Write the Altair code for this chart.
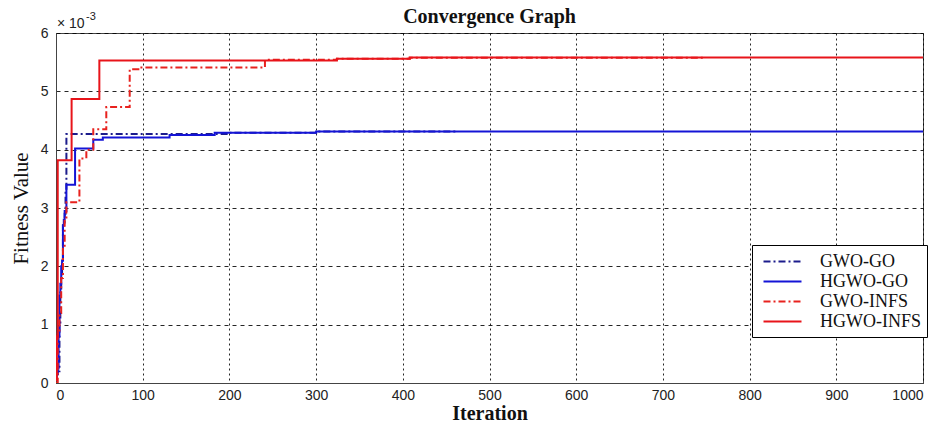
import altair as alt
import pandas as pd

# values in units of 1e-3
series_names = ["GWO-GO", "HGWO-GO", "GWO-INFS", "HGWO-INFS"]

gwo_go_iter = [0, 2, 4, 5, 6, 7, 8, 10, 11, 12, 200, 300, 463]
gwo_go_val = [0.15, 0.2, 1.0, 1.6, 1.8, 2.1, 2.75, 2.9, 3.3, 4.27, 4.29, 4.31, 4.31]

hgwo_go_iter = [0, 1, 2, 3, 4, 5, 6, 7, 8, 9, 10, 12, 22, 43, 54, 131, 183, 300, 1000]
hgwo_go_val = [0.1, 0.15, 0.25, 0.8, 1.5, 1.7, 2.0, 2.1, 2.7, 2.8, 2.95, 3.4, 4.02, 4.17, 4.21, 4.25, 4.29, 4.31, 4.31]

gwo_infs_iter = [0, 2, 4, 6, 8, 10, 12, 27, 35, 43, 58, 85, 95, 241, 324, 408, 748]
gwo_infs_val = [0.0, 0.85, 1.2, 1.8, 2.3, 2.8, 3.1, 3.85, 4.0, 4.35, 4.73, 5.38, 5.41, 5.54, 5.56, 5.575, 5.575]

hgwo_infs_iter = [0, 1, 2, 18, 50, 324, 408, 1000]
hgwo_infs_val = [0.05, 0.8, 3.82, 4.87, 5.53, 5.56, 5.58, 5.58]

x_ticks = [0, 100, 200, 300, 400, 500, 600, 700, 800, 900, 1000]
y_ticks = [0, 1, 2, 3, 4, 5, 6]

colors = ["#1c1c8c", "#1414d6", "#e8221e", "#e8141a"]
dashes = [[7, 3, 2, 3], [1, 0], [7, 3, 2, 3], [1, 0]]

rows = []
for name, its, vals in zip(series_names,
                           [gwo_go_iter, hgwo_go_iter, gwo_infs_iter, hgwo_infs_iter],
                           [gwo_go_val, hgwo_go_val, gwo_infs_val, hgwo_infs_val]):
    for i, v in zip(its, vals):
        rows.append({"series": name, "Iteration": i, "Fitness": v})
df = pd.DataFrame(rows)

serif = "Liberation Serif"
sans = "Liberation Sans"

lines = alt.Chart(df).mark_line(interpolate="step-after", strokeWidth=2, clip=True).encode(
    x=alt.X("Iteration:Q",
            scale=alt.Scale(domain=[0, 1000], nice=False),
            axis=alt.Axis(values=x_ticks, format="d", title="Iteration", grid=True, gridDash=[2, 3],
                          gridColor="#000000", gridOpacity=0.85, ticks=False,
                          labelFont=sans, labelFontSize=14, labelColor="#222222",
                          labelPadding=5, domainColor="#444444",
                          titleFont=serif, titleFontSize=20, titleFontWeight="bold",
                          titleColor="#111111", titlePadding=1)),
    y=alt.Y("Fitness:Q",
            scale=alt.Scale(domain=[0, 6], nice=False),
            axis=alt.Axis(values=y_ticks, title="Fitness Value", grid=True, gridDash=[4, 4],
                          gridColor="#000000", gridOpacity=0.85, ticks=False,
                          labelFont=sans, labelFontSize=14, labelColor="#222222",
                          labelPadding=8, domainColor="#444444",
                          titleFont=serif, titleFontSize=21, titleFontWeight="normal",
                          titleColor="#111111", titlePadding=9)),
    color=alt.Color("series:N",
                    scale=alt.Scale(domain=series_names, range=colors),
                    sort=series_names,
                    legend=alt.Legend(title=None, orient="none", legendX=696, legendY=212,
                                      strokeColor="#000000", fillColor="#ffffff",
                                      padding=6, labelFont=serif, labelFontSize=18,
                                      labelColor="#111111", symbolType="M-2,0L2,0",
                                      symbolStrokeWidth=2, symbolSize=361,
                                      symbolOffset=14, rowPadding=0, labelOffset=27)),
    strokeDash=alt.StrokeDash("series:N",
                              scale=alt.Scale(domain=series_names, range=dashes),
                              sort=series_names, legend=alt.Legend(title=None)),
    order=alt.Order("Iteration:Q"),
)

title_txt = alt.Chart(pd.DataFrame({"t": ["Convergence Graph"]})).mark_text(
    font=serif, fontSize=20, fontWeight="bold", color="#111111", align="center",
    baseline="alphabetic"
).encode(text="t:N", x=alt.value(433.5), y=alt.value(-10))

exp_base = alt.Chart(pd.DataFrame({"t": ["× 10"]})).mark_text(
    font=sans, fontSize=14, color="#222222", align="left", baseline="alphabetic"
).encode(text="t:N", x=alt.value(1), y=alt.value(-5))

exp_sup = alt.Chart(pd.DataFrame({"t": ["-3"]})).mark_text(
    font=sans, fontSize=11, color="#222222", align="left", baseline="alphabetic"
).encode(text="t:N", x=alt.value(30), y=alt.value(-13))

chart = alt.layer(lines, title_txt, exp_base, exp_sup).properties(
    width=867, height=350,
    autosize=alt.AutoSizeParams(type="none"),
    padding={"left": 48, "top": 25, "right": 13, "bottom": 40},
).configure_view(stroke="#444444", strokeWidth=1)

chart.save("out.html", embed_options={"renderer": "svg", "actions": False})
